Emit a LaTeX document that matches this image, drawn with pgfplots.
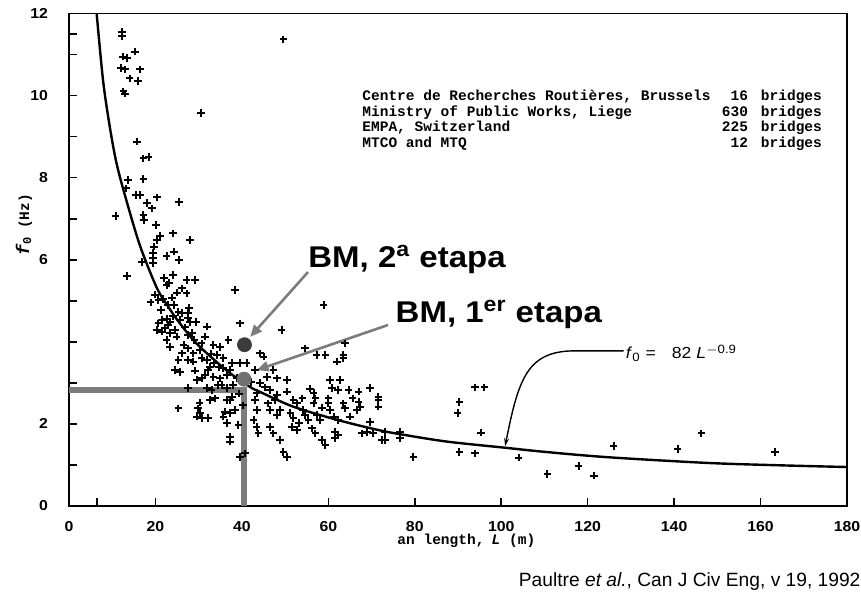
\documentclass[border=0pt]{standalone}
\usepackage{pgfplots}
\pgfplotsset{compat=1.18}
\usetikzlibrary{arrows.meta}
\usepackage{fontspec}
\setmainfont{Liberation Sans}
\newfontfamily\monofont{Liberation Mono}
\newfontfamily\tickfont[FakeStretch=1.1]{Liberation Sans}
\newfontfamily\bmfont[FakeStretch=1.1]{Liberation Sans}
\definecolor{dotdark}{HTML}{3C3C3C}
\definecolor{dotmid}{HTML}{707070}
\definecolor{guide}{HTML}{7C7C7C}
\begin{document}
\begin{tikzpicture}
\begin{axis}[
  scale only axis, width=389pt, height=246.25pt,
  at={(34.5pt,42.5pt)}, anchor=south west,
  xmin=0, xmax=180, ymin=0, ymax=12,
  xtick={0,20,...,180}, minor xtick={6.5},
  ytick={0,2,6,8,10,12}, minor ytick={1,3,4,5,7,9,11,11.5},
  xtick pos=bottom, ytick pos=left, tick align=inside,
  major tick length=4pt, minor tick length=4pt,
  tick style={black, line width=0.8pt},
  axis line style={line width=0.9pt},
  /pgf/number format/assume math mode=true,
  ticklabel style={font=\tickfont\bfseries\fontsize{7.2}{8}\selectfont},
  xticklabel style={yshift=-4pt},
  yticklabel style={xshift=-7pt},
  clip=false,
]
% fitted curve f0 = 82 L^-0.9, as printed
\addplot[smooth, line width=1.2pt] coordinates {
(6.4,12.0) (7.9,10.35) (9.5,9.2) (11.0,8.35) (13.0,7.55) (16.4,6.35)
(20.3,5.32) (23.0,4.85) (25.3,4.5) (29.6,3.95) (36.5,3.3) (41.9,2.9)
(44.2,2.78) (51.9,2.42) (62,2.1) (71.2,1.86) (76.6,1.75) (87.4,1.57)
(100.9,1.42) (110,1.32) (124.5,1.19) (147.6,1.05) (165,0.99) (180,0.95)};
% measured bridges
\addplot[only marks, mark=+, mark size=1.9pt, line width=1pt] coordinates {
(12.2,11.56) (12.2,11.44) (15.3,11.07) (12.5,10.95) (13.4,10.91) (12.0,10.67)
(13.0,10.64) (16.4,10.64) (14.0,10.42) (16.0,10.36) (12.6,10.1) (12.9,10.05)
(49.6,11.37) (30.6,9.57) (15.8,8.88) (17.2,8.47) (18.4,8.51) (13.7,7.94)
(17.2,7.97) (13.2,7.74) (15.5,7.58) (16.4,7.58) (18.0,7.39) (20.3,7.52)
(25.5,7.41) (10.8,7.07) (17.2,7.09) (17.4,6.97) (19.2,7.25) (20.1,6.85)
(21.1,6.58) (20.3,6.48) (24.0,6.64) (28.0,6.48) (19.7,6.32) (22.6,6.09)
(24.3,6.20) (25.5,5.99) (19.5,6.16) (19.5,6.04) (19.5,5.92) (16.8,5.95)
(13.4,5.60) (24.1,5.63) (27.2,5.51) (29.2,5.51) (22.6,5.38) (26.1,5.30)
(27.2,5.18) (38.4,5.26) (23.1,5.43)
(18.9,4.96) (20.7,5.02) (21.7,5.04) (23.8,5.08) (22.8,4.90) (24.3,4.90)
(25.3,4.73) (27.8,4.82) (26.1,4.70) (21.5,4.53) (22.6,4.56) (23.4,4.49)
(27.6,4.57) (28.0,4.49) (29.4,4.49) (39.6,4.45)
(27.6,4.70) (20.7,4.45) (23.0,4.42) (25.7,4.53) (31.9,4.37) (20.3,4.29)
(21.5,4.25) (22.2,4.33) (24.5,4.29) (23.4,4.21) (24.9,4.13) (27.6,4.17)
(28.4,4.21) (31.5,4.13) (30.7,3.96) (33.4,3.92) (35.0,3.88) (36.9,4.04)
(22.6,4.04) (23.4,3.88) (26.5,3.92) (27.6,3.84) (28.8,3.72) (25.3,3.56)
(27.6,3.56) (28.8,3.52) (30.7,3.60) (31.9,3.56) (34.2,3.68) (35.7,3.60)
(32.6,3.39) (32.2,3.31) (24.5,3.31) (25.7,3.27) (29.6,3.07) (30.7,3.11)
(31.5,3.19) (33.4,3.15) (35.0,3.11) (36.5,3.19) (37.7,3.48) (37.3,3.31)
(34.6,3.39) (35.7,3.36) (39.6,3.48) (41.1,3.48) (35.3,2.95) (36.5,2.87)
(38.0,2.95) (27.6,2.87) (31.9,2.87) (33.0,2.83) (32.6,2.58) (33.8,2.62)
(25.3,2.38) (29.9,2.38) (30.3,2.26) (29.6,2.18) (30.7,2.14) (32.2,2.14)
(36.5,2.58) (37.3,2.58) (37.7,2.66) (36.1,2.30) (37.3,2.26) (38.4,2.34)
(36.5,2.02) (39.2,1.97) (35.7,2.18) (37.3,1.69) (37.3,1.57) (39.6,1.20)
(40.7,1.28) (43.1,2.58) (43.5,2.34) (42.7,2.10) (43.8,1.77)
(24.0,4.62) (26.8,4.35) (29.0,4.05) (30.2,3.80) (32.8,3.70) (26.2,3.72)
(33.6,3.48) (29.2,3.30) (38.8,3.12) (39.4,2.74) (34.4,2.95) (42.2,3.02)
(19.9,5.15) (22.0,5.55) (25.0,5.20) (21.3,4.78) (30.2,2.52) (40.3,2.45)
(49.2,4.29) (58.9,4.90) (54.6,3.84) (57.3,3.68) (59.3,3.68) (62.0,3.52)
(63.5,3.68) (63.5,3.60) (63.9,3.96) (44.2,3.72) (45.0,3.64) (43.1,3.31)
(47.3,3.31) (45.8,3.15) (48.1,3.11) (50.4,3.07) (60.4,3.07) (62.7,3.07)
(60.8,2.87) (62.3,2.83) (64.7,2.83) (67.0,2.79) (69.7,2.87) (71.6,2.66)
(71.6,2.58) (71.6,2.42) (44.2,2.99) (45.4,2.89) (43.4,2.75) (46.5,2.83)
(48.1,2.70) (50.4,2.79) (51.9,2.58) (52.7,2.50) (56.6,2.75) (57.0,2.62)
(56.6,2.50) (60.0,2.62) (60.0,2.50) (63.5,2.50) (63.9,2.38) (67.0,2.54)
(67.4,2.42) (66.6,2.34) (46.1,2.50) (46.5,2.34) (48.8,2.34) (48.1,2.22)
(51.2,2.26) (51.9,2.14) (54.2,2.34) (54.6,2.22) (55.4,2.10) (57.3,2.22)
(58.1,2.10) (60.4,2.34) (61.2,2.18) (62.3,2.10) (65.0,2.18) (43.4,1.93)
(46.5,1.93) (47.3,1.77) (48.8,1.61) (51.6,1.93) (52.7,1.85) (56.2,1.89)
(57.0,1.77) (58.5,1.61) (59.3,1.49) (61.6,1.81) (62.3,1.73) (61.6,1.65)
(67.8,1.77) (68.9,1.81) (70.4,1.77) (73.1,1.61) (49.6,1.32) (50.4,1.20)
(69.7,2.05) (73.1,1.81) (72.4,1.61) (76.6,1.81) (76.6,1.65) (79.7,1.20)
(54.0,2.62) (58.6,2.40) (53.2,2.02) (65.6,2.62) (47.6,2.58) (55.8,2.86)
(90.3,2.54) (89.9,2.27) (94.0,2.89) (96.1,2.89) (95.3,1.79) (90.3,1.32)
(94.0,1.28) (104.0,1.18) (110.7,0.78) (117.9,0.97) (121.4,0.74) (126.0,1.46)
(140.8,1.39) (146.3,1.77) (163.4,1.32)};
% BM reference lines and points
\addplot[guide, line width=3pt] coordinates {(0,2.83) (40.6,2.83) (40.6,0)};
\addplot[only marks, mark=*, mark size=3.5pt, dotdark] coordinates {(40.6,3.93)};
\addplot[only marks, mark=*, mark size=3.5pt, dotmid] coordinates {(40.5,3.09)};
\draw[guide, line width=1.3pt, -{Triangle[length=6pt,width=5pt]}]
  (axis cs:55.3,5.70) -- (axis cs:41.9,4.12);
\draw[guide, line width=1.3pt, -{Triangle[length=6pt,width=5pt]}]
  (axis cs:73.8,4.41) -- (axis cs:43.4,3.31);
\node[anchor=base west, inner sep=0pt, font=\bmfont\bfseries\fontsize{15}{18}\selectfont]
  at (axis cs:55.3,5.82) {BM, 2\textsuperscript{a} etapa};
\node[anchor=base west, inner sep=0pt, font=\bmfont\bfseries\fontsize{15}{18}\selectfont]
  at (axis cs:75.5,4.48) {BM, 1\textsuperscript{er} etapa};
% curve label with leader
\draw[line width=0.7pt, -{Stealth[length=4pt,width=2.5pt]}]
  (axis cs:128.3,3.78) -- (axis cs:117,3.78)
  .. controls (axis cs:106,3.78) and (axis cs:104,3.1) .. (axis cs:100.9,1.46);
\node[anchor=west, inner sep=1pt, font=\tickfont\fontsize{8}{9}\selectfont]
  at (axis cs:128.3,3.72) {\textit{f}\textsubscript{0} =\quad 82 \textit{L}\textsuperscript{$-$0.9}};
% sources
\begin{scope}[every node/.style={inner sep=0pt, font=\monofont\bfseries\fontsize{7.25}{8}\selectfont}]
\node[anchor=base west] at (axis cs:67.8,9.89) {Centre de Recherches Routières, Brussels};
\node[anchor=base west] at (axis cs:67.8,9.50) {Ministry of Public Works, Liege};
\node[anchor=base west] at (axis cs:67.8,9.12) {EMPA, Switzerland};
\node[anchor=base west] at (axis cs:67.8,8.74) {MTCO and MTQ};
\node[anchor=base east] at (axis cs:157.2,9.89) {16};
\node[anchor=base east] at (axis cs:157.2,9.50) {630};
\node[anchor=base east] at (axis cs:157.2,9.12) {225};
\node[anchor=base east] at (axis cs:157.2,8.74) {12};
\node[anchor=base west] at (axis cs:160.0,9.89) {bridges};
\node[anchor=base west] at (axis cs:160.0,9.50) {bridges};
\node[anchor=base west] at (axis cs:160.0,9.12) {bridges};
\node[anchor=base west] at (axis cs:160.0,8.74) {bridges};
% axis titles
\node[anchor=base west] at (axis cs:75.9,-0.95) {an length,\enspace \textit{L} (m)};
\node[rotate=90, anchor=center] at (axis cs:-10.4,6.85) {{\fontsize{9}{10}\selectfont\textit{f}\textsubscript{0}}\enspace(Hz)};
\end{scope}
\node[anchor=base west, inner sep=0pt, font=\fontsize{9.6}{11}\selectfont]
  at (axis cs:104.0,-1.97) {Paultre \textit{et al.}, Can J Civ Eng, v 19, 1992};
\end{axis}
\pgfresetboundingbox
\useasboundingbox (0,0) rectangle (430.5pt,295.5pt);
\end{tikzpicture}
\end{document}
